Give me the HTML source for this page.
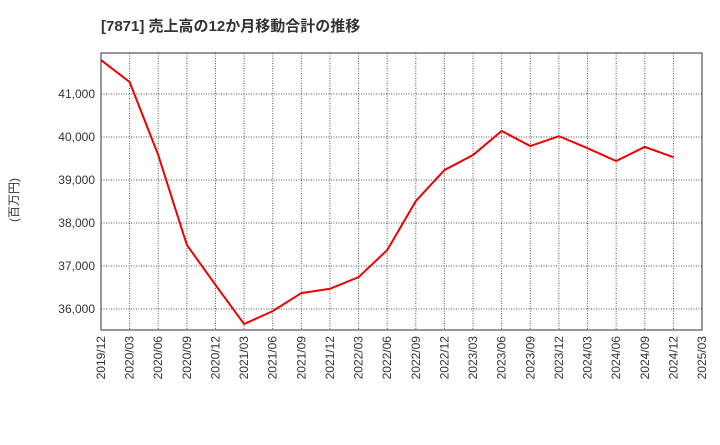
<!DOCTYPE html>
<html><head><meta charset="utf-8"><style>
body{margin:0;background:#fff;font-family:"Liberation Sans","Noto Sans CJK JP",sans-serif}
</style></head><body>
<svg width="720" height="440" xmlns="http://www.w3.org/2000/svg" font-family="Liberation Sans, Noto Sans CJK JP, sans-serif">
<text x="101" y="31" font-size="15" font-weight="bold" fill="#333">[7871]  売上高の12か月移動合計の推移</text>
<text transform="translate(18,200) rotate(-90)" font-size="12" fill="#333" text-anchor="middle">(百万円)</text>
<g id="grid"></g><g id="axes"></g><g id="marks"></g>
<rect x="101" y="53" width="601" height="277" fill="none" stroke="#333" stroke-width="1"/>
</svg>
<script>
const xLabels=["2019/12","2020/03","2020/06","2020/09","2020/12","2021/03","2021/06","2021/09","2021/12","2022/03","2022/06","2022/09","2022/12","2023/03","2023/06","2023/09","2023/12","2024/03","2024/06","2024/09","2024/12","2025/03"];
const values=[41790,41280,39580,37490,36560,35650,35950,36370,36470,36740,37370,38510,39230,39580,40140,39790,40020,39740,39440,39770,39530];
const yTicks=[36000,37000,38000,39000,40000,41000];
const NS="http://www.w3.org/2000/svg";
const L=101,R=702,T=53,B=330;
const x=i=>L+i*(R-L)/(xLabels.length-1);
const y=v=>309-(v-36000)*0.043;
const grid=document.getElementById('grid'),axes=document.getElementById('axes'),marks=document.getElementById('marks');
function mk(tag,attrs,parent){const e=document.createElementNS(NS,tag);for(const k in attrs)e.setAttribute(k,attrs[k]);parent.appendChild(e);return e;}
xLabels.forEach((lab,i)=>{
  const g=mk('line',{x1:x(i),x2:x(i),y1:T,y2:B,stroke:'#555','stroke-dasharray':'1,1.5','stroke-width':1},grid);
  
  
  const t=mk('text',{transform:`translate(${x(i)+4},${B+6}) rotate(-90)`,'font-size':12,fill:'#333','text-anchor':'end'},axes);
  t.textContent=lab;
  
  
});
yTicks.forEach(v=>{
  const g=mk('line',{x1:L,x2:R,y1:y(v),y2:y(v),stroke:'#555','stroke-dasharray':'1,1.5','stroke-width':1},grid);
  
  
  const t=mk('text',{x:L-6,y:y(v)+4,'font-size':12,fill:'#333','text-anchor':'end'},axes);
  t.textContent=v.toLocaleString('en-US');
  
  
});
const p=mk('polyline',{points:values.map((v,i)=>x(i)+','+y(v)).join(' '),fill:'none',stroke:'#e00',"stroke-width":2},marks);


</script>
</body></html>
